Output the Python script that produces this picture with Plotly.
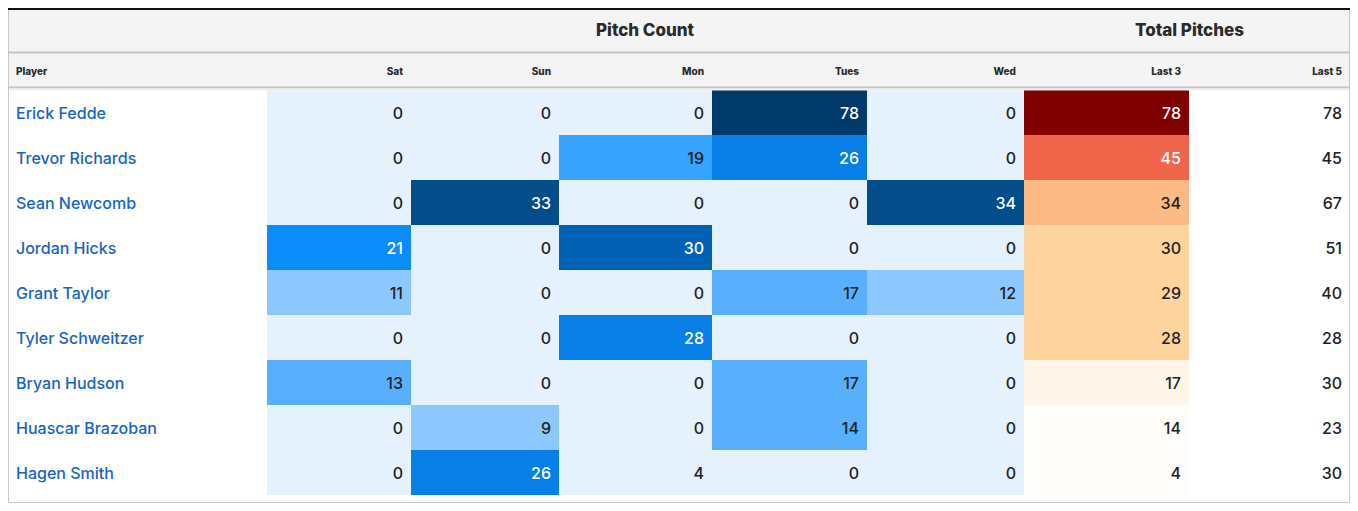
import plotly.graph_objects as go

players = ["Erick Fedde", "Trevor Richards", "Sean Newcomb", "Jordan Hicks", "Grant Taylor",
           "Tyler Schweitzer", "Bryan Hudson", "Huascar Brazoban", "Hagen Smith"]
sat = [0, 0, 0, 21, 11, 0, 13, 0, 0]
sun = [0, 0, 33, 0, 0, 0, 0, 9, 26]
mon = [0, 19, 0, 30, 0, 28, 0, 0, 4]
tues = [78, 26, 0, 0, 17, 0, 17, 14, 0]
wed = [0, 0, 34, 0, 12, 0, 0, 0, 0]
last3 = [78, 45, 34, 30, 29, 28, 17, 14, 4]
last5 = [78, 45, 67, 51, 40, 28, 30, 23, 30]

headers = ["Player", "Sat", "Sun", "Mon", "Tues", "Wed", "Last 3", "Last 5"]
groups = ["Pitch Count", "Total Pitches"]

# page has an 8px body margin, so the figure is 16px smaller than the window
W, H = 1342, 495


def px(x):
    return x / W


def py(y):
    return 1 - y / H


# value -> colour bins
blue_bins = [(5, "#e5f1fd"), (12, "#8cc8fe"), (18, "#58b0fd"), (20, "#36a3fe"),
             (25, "#0a8cfc"), (29, "#077fe6"), (32, "#0062b5"), (40, "#034d8b"),
             (999, "#003a6a")]
red_bins = [(15, "#fffdfa"), (20, "#fff6ea"), (31, "#fdd49e"), (40, "#fcbb84"),
            (60, "#f0664a"), (999, "#800000")]


def pick(v, bins):
    for lim, c in bins:
        if v <= lim:
            return c
    return bins[-1][1]


day_cols = [sat, sun, mon, tues, wed]
fills = [["white"] * len(players)]
fonts = [["#1565c0"] * len(players)]
for col in day_cols:
    fills.append([pick(v, blue_bins) for v in col])
    fonts.append(["white" if v >= 21 else "#222222" for v in col])
fills.append([pick(v, red_bins) for v in last3])
fonts.append(["white" if v >= 45 else "#222222" for v in last3])
fills.append(["white"] * len(players))
fonts.append(["#222222"] * len(players))

values = [players] + day_cols + [last3, last5]
blank = [[""] * len(players) for _ in values]
widths = [259, 144, 148, 153, 155, 157, 165, 161]
aligns = ["left"] + ["right"] * 7
clear = "rgba(0,0,0,0)"

# table A: coloured cells only (no text)
fill_table = go.Table(
    domain=dict(x=[0, 1], y=[py(490), py(44)]),
    columnwidth=widths,
    header=dict(values=[""] * len(headers), height=38, fill_color=clear,
                line=dict(width=0, color=clear)),
    cells=dict(values=blank, height=45, fill_color=fills,
               line=dict(width=0, color=clear)),
)

# table B: the text, nudged down so it sits centred in each cell
text_table = go.Table(
    domain=dict(x=[0, 1], y=[py(495), py(51)]),
    columnwidth=widths,
    header=dict(values=headers, height=39.5, fill_color=clear,
                line=dict(width=0, color=clear), align=aligns,
                font=dict(family="Inter", size=10, color="#2a2a2a", weight=800)),
    cells=dict(values=values, height=45, fill_color=clear,
               line=dict(width=0, color=clear), align=aligns,
               font=dict(family="Inter", size=16, color=fonts, weight=500)),
)

fig = go.Figure([fill_table, text_table])

shapes = [
    # group header band
    dict(type="rect", x0=px(0), x1=px(1342), y0=py(80), y1=py(1),
         line=dict(width=0), fillcolor="#f4f4f4", layer="below"),
    # outer card
    dict(type="rect", x0=px(0.5), x1=px(1341.5), y0=py(494.5), y1=py(1),
         line=dict(color="#c8c8c8", width=1), fillcolor=clear, layer="above"),
    dict(type="line", x0=px(0), x1=px(1342), y0=py(1), y1=py(1),
         line=dict(color="#111111", width=2)),
    dict(type="line", x0=px(0), x1=px(1342), y0=py(44.5), y1=py(44.5),
         line=dict(color="#c4c4c4", width=2)),
    dict(type="line", x0=px(0), x1=px(1342), y0=py(79.5), y1=py(79.5),
         line=dict(color="#c4c4c4", width=2)),
    dict(type="line", x0=px(1), x1=px(1341), y0=py(81.5), y1=py(81.5),
         line=dict(color="#efefef", width=2)),
]

annotations = [
    dict(text=groups[0], x=px(637), y=py(22), xref="paper", yref="paper",
         xanchor="center", yanchor="middle", showarrow=False,
         font=dict(family="Inter", size=17, color="#2a2a2a", weight=800)),
    dict(text=groups[1], x=px(1181), y=py(22), xref="paper", yref="paper",
         xanchor="center", yanchor="middle", showarrow=False,
         font=dict(family="Inter", size=17, color="#2a2a2a", weight=800)),
]

fig.update_layout(
    width=W, height=H,
    margin=dict(l=0, r=0, t=0, b=0),
    paper_bgcolor="white",
    shapes=shapes,
    annotations=annotations,
)

fig.write_html("out.html")
